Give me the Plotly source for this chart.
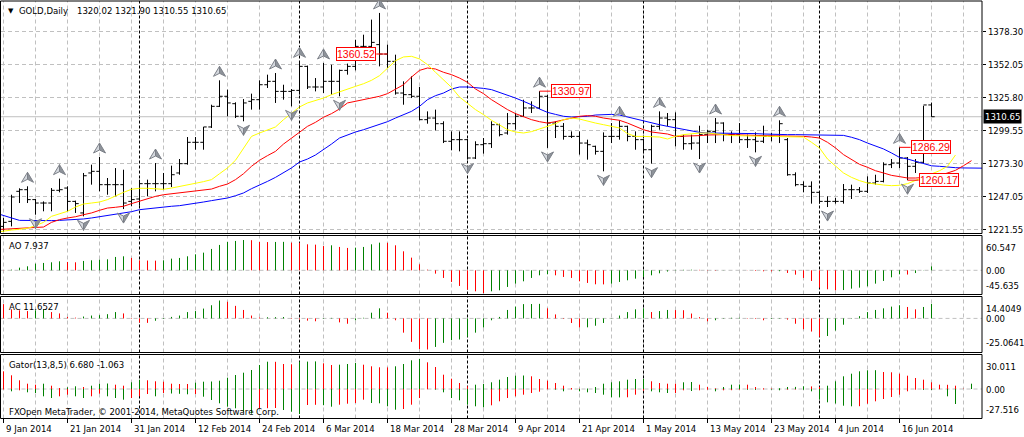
import plotly.graph_objects as go

# ------------------------------------------------------------------ data
DATE_LABELS = ["9 Jan 2014", "21 Jan 2014", "31 Jan 2014", "12 Feb 2014", "24 Feb 2014",
               "6 Mar 2014", "18 Mar 2014", "28 Mar 2014", "9 Apr 2014", "21 Apr 2014",
               "1 May 2014", "13 May 2014", "23 May 2014", "4 Jun 2014", "16 Jun 2014"]
DATE_LABEL_BARS = [0, 8, 16, 24, 32, 40, 48, 56, 64, 72, 80, 88, 96, 104, 112]
MONTH_START_BARS = [17, 37, 58, 80, 102]

OPEN = [1223.4, 1227.4, 1251.3, 1252.6, 1244.7, 1242.0, 1242.0, 1252.1, 1253.9, 1243.3,
        1234.1, 1265.9, 1267.2, 1256.6, 1256.6, 1256.6, 1243.3, 1245.2, 1257.4, 1257.4,
        1257.4, 1257.4, 1265.9, 1273.3, 1290.3, 1290.3, 1302.5, 1318.9, 1326.9, 1321.0,
        1311.0, 1322.9, 1324.2, 1336.1, 1338.8, 1330.8, 1330.8, 1331.6, 1350.7, 1334.3,
        1334.3, 1338.8, 1338.8, 1347.5, 1350.7, 1366.6, 1366.6, 1368.0, 1360.5, 1354.7,
        1329.5, 1328.2, 1326.9, 1308.3, 1309.6, 1305.1, 1291.1, 1292.4, 1292.4, 1277.8,
        1288.4, 1289.2, 1304.3, 1297.7, 1305.1, 1311.0, 1317.6, 1317.6, 1326.9, 1305.6,
        1303.0, 1295.0, 1295.0, 1289.7, 1287.1, 1283.1, 1295.0, 1295.0, 1303.0, 1295.0,
        1292.4, 1284.4, 1303.0, 1309.6, 1308.3, 1295.0, 1289.2, 1289.7, 1296.4, 1299.0,
        1305.6, 1296.4, 1296.4, 1292.4, 1292.4, 1291.1, 1295.0, 1295.0, 1292.4, 1264.5,
        1256.6, 1255.3, 1250.5, 1243.3, 1243.3, 1243.3, 1252.6, 1252.6, 1251.3, 1257.9,
        1259.2, 1272.5, 1273.8, 1277.8, 1271.2, 1274.4, 1320.02]
HIGH = [1230.1, 1248.6, 1253.7, 1255.3, 1245.2, 1243.3, 1253.9, 1261.4, 1255.3, 1243.9,
        1265.9, 1272.5, 1278.6, 1261.9, 1269.8, 1268.5, 1253.9, 1260.6, 1260.6, 1273.8,
        1265.9, 1271.7, 1277.0, 1294.5, 1294.5, 1302.5, 1320.2, 1339.6, 1332.2, 1322.1,
        1324.7, 1329.0, 1339.6, 1344.1, 1345.4, 1336.1, 1332.7, 1354.7, 1351.3, 1341.4,
        1353.4, 1352.0, 1348.1, 1352.9, 1371.9, 1375.9, 1387.9, 1393.2, 1368.0, 1360.0,
        1338.8, 1342.8, 1334.3, 1314.9, 1316.3, 1307.0, 1299.0, 1299.0, 1292.9, 1291.1,
        1293.7, 1307.0, 1305.1, 1313.6, 1313.6, 1324.2, 1322.9, 1330.97, 1328.2, 1307.0,
        1305.6, 1299.0, 1299.0, 1292.4, 1287.6, 1298.2, 1305.6, 1307.8, 1303.5, 1299.0,
        1292.9, 1304.3, 1314.9, 1313.6, 1314.1, 1296.4, 1296.4, 1303.5, 1300.3, 1309.6,
        1306.2, 1299.0, 1305.6, 1296.4, 1298.2, 1303.5, 1297.7, 1307.8, 1293.7, 1266.4,
        1259.2, 1259.2, 1251.0, 1247.3, 1246.0, 1257.1, 1256.6, 1254.7, 1263.2, 1264.5,
        1274.4, 1277.0, 1286.29, 1278.6, 1277.0, 1319.4, 1321.90]
LOW = [1219.0, 1223.4, 1242.0, 1242.0, 1232.7, 1235.4, 1235.4, 1250.5, 1235.4, 1234.1,
       1231.4, 1256.6, 1251.3, 1248.6, 1247.3, 1237.2, 1239.4, 1239.9, 1247.3, 1251.3,
       1252.6, 1254.7, 1264.5, 1272.5, 1284.4, 1284.4, 1301.7, 1318.4, 1311.0, 1309.6,
       1307.0, 1316.3, 1316.3, 1333.5, 1321.6, 1324.2, 1318.9, 1328.2, 1332.7, 1330.8,
       1329.5, 1328.2, 1326.9, 1344.1, 1347.5, 1364.0, 1365.3, 1350.7, 1349.4, 1328.2,
       1320.2, 1325.5, 1307.8, 1305.1, 1299.8, 1289.7, 1283.9, 1283.1, 1276.5, 1277.0,
       1281.3, 1285.8, 1295.0, 1296.4, 1300.3, 1310.4, 1313.6, 1316.8, 1285.8, 1293.7,
       1292.4, 1293.7, 1280.5, 1276.5, 1280.5, 1267.2, 1289.7, 1292.4, 1291.1, 1284.4,
       1283.1, 1273.3, 1300.3, 1303.0, 1287.1, 1284.4, 1284.4, 1277.0, 1289.7, 1289.7,
       1291.1, 1289.7, 1289.7, 1285.8, 1282.3, 1289.7, 1291.1, 1289.7, 1263.7, 1255.3,
       1250.5, 1241.5, 1241.5, 1238.8, 1241.5, 1241.5, 1245.2, 1250.0, 1250.0, 1256.6,
       1258.4, 1269.8, 1269.8, 1260.17, 1265.9, 1273.8, 1310.55]
CLOSE = [1226.6, 1246.8, 1252.6, 1244.7, 1242.0, 1242.0, 1252.1, 1252.6, 1243.3, 1241.5,
         1263.7, 1267.2, 1256.6, 1256.6, 1256.6, 1242.0, 1244.7, 1257.4, 1257.4, 1257.4,
         1257.4, 1264.5, 1273.3, 1290.3, 1290.3, 1302.5, 1318.9, 1326.9, 1321.6, 1311.0,
         1321.6, 1324.2, 1336.1, 1338.8, 1330.8, 1330.8, 1331.6, 1350.7, 1334.3, 1334.3,
         1338.8, 1338.8, 1347.5, 1350.7, 1366.6, 1366.6, 1369.8, 1360.5, 1354.7, 1329.5,
         1328.2, 1326.9, 1308.3, 1309.6, 1305.1, 1291.1, 1292.4, 1292.4, 1277.8, 1288.4,
         1289.2, 1304.3, 1296.4, 1305.1, 1311.0, 1317.6, 1317.6, 1326.9, 1305.6, 1303.0,
         1295.0, 1295.0, 1289.7, 1288.4, 1283.1, 1295.0, 1295.0, 1303.0, 1295.0, 1292.4,
         1284.4, 1303.0, 1309.6, 1308.3, 1295.0, 1289.2, 1289.7, 1296.4, 1299.0, 1305.6,
         1296.4, 1296.4, 1292.4, 1292.4, 1291.1, 1295.0, 1295.0, 1305.1, 1264.5, 1256.6,
         1255.3, 1250.5, 1243.3, 1243.3, 1243.3, 1252.6, 1252.6, 1251.3, 1257.9, 1259.2,
         1272.5, 1273.8, 1277.8, 1271.2, 1274.4, 1320.0, 1310.65]

LINE_START_BAR = -1
JAW = [1234.1, 1231.9, 1230.1, 1228.2, 1228.0, 1228.0, 1228.0, 1228.0, 1228.2, 1228.5,
       1228.8, 1229.3, 1230.1, 1231.1, 1231.9, 1232.7, 1233.8, 1235.1, 1236.7, 1237.5,
       1238.0, 1238.6, 1239.4, 1239.9, 1240.7, 1241.7, 1242.8, 1243.9, 1244.9, 1246.0,
       1247.8, 1250.0, 1253.4, 1256.1, 1259.2, 1262.4, 1265.9, 1269.9, 1274.6, 1277.0,
       1280.2, 1284.4, 1288.9, 1293.7, 1296.4, 1298.5, 1300.3, 1302.5, 1304.6, 1306.7,
       1309.6, 1312.3, 1314.9, 1318.9, 1324.2, 1327.4, 1329.5, 1332.7, 1334.3, 1334.3,
       1334.0, 1333.2, 1332.2, 1330.0, 1328.2, 1325.5, 1322.9, 1320.2, 1316.8, 1314.1,
       1312.5, 1311.0, 1310.4, 1310.4, 1311.0, 1312.0, 1312.3, 1312.5, 1312.0, 1310.4,
       1308.8, 1307.0, 1305.6, 1304.3, 1303.0, 1301.7, 1300.3, 1299.0, 1298.2, 1297.7,
       1297.7, 1297.7, 1297.7, 1297.7, 1297.4, 1297.2, 1296.9, 1296.6, 1296.6, 1296.4,
       1296.4, 1296.4, 1296.4, 1296.4, 1296.4, 1296.4, 1295.8, 1294.3, 1292.4, 1289.7,
       1287.6, 1285.0, 1281.8, 1278.3, 1277.0, 1275.2, 1273.0, 1271.6, 1271.2, 1270.4,
       1270.1, 1269.9, 1269.9, 1269.9, 1269.6, 1269.6]
TEETH = [1220.8, 1221.1, 1221.3, 1221.6, 1221.9, 1222.1, 1222.9, 1226.6, 1228.8, 1230.1,
         1231.1, 1232.7, 1234.1, 1236.2, 1238.0, 1238.6, 1239.4, 1241.5, 1243.6, 1245.5,
         1247.3, 1248.6, 1249.4, 1250.0, 1250.8, 1251.3, 1252.1, 1253.1, 1255.3, 1257.1,
         1260.6, 1265.3, 1271.2, 1276.0, 1279.7, 1283.1, 1288.9, 1293.7, 1298.2, 1303.0,
         1306.2, 1310.2, 1313.1, 1316.8, 1321.6, 1322.9, 1324.2, 1325.5, 1326.9, 1329.0,
         1332.7, 1336.1, 1342.2, 1347.5, 1349.4, 1348.6, 1346.0, 1344.1, 1341.4, 1338.0,
         1332.7, 1329.0, 1324.2, 1320.2, 1316.3, 1313.1, 1310.4, 1308.3, 1306.7, 1305.6,
         1306.7, 1308.3, 1309.6, 1311.0, 1311.5, 1311.0, 1309.6, 1308.8, 1307.8, 1305.6,
         1303.0, 1300.3, 1298.5, 1297.7, 1296.9, 1295.0, 1295.0, 1295.0, 1295.6, 1296.1,
         1296.4, 1296.4, 1296.4, 1296.4, 1296.1, 1295.8, 1295.6, 1295.6, 1295.3, 1295.0,
         1295.0, 1295.0, 1294.5, 1293.7, 1290.3, 1285.8, 1280.5, 1276.5, 1272.8, 1270.4,
         1267.7, 1265.9, 1264.0, 1263.0, 1261.9, 1261.9, 1262.2, 1262.7, 1263.8, 1265.9,
         1268.0, 1271.7, 1275.7]
LIPS = [1218.7, 1219.7, 1220.5, 1221.1, 1221.9, 1224.0, 1226.6, 1231.4, 1233.5, 1235.4,
        1238.8, 1241.2, 1242.0, 1242.8, 1244.7, 1247.8, 1250.5, 1252.9, 1253.7, 1253.7,
        1253.1, 1252.9, 1253.9, 1255.0, 1256.3, 1257.7, 1259.0, 1260.6, 1265.3, 1269.9,
        1276.0, 1285.8, 1295.0, 1297.7, 1299.8, 1302.5, 1308.3, 1313.1, 1318.4, 1321.6,
        1323.4, 1325.5, 1328.2, 1330.6, 1333.0, 1334.8, 1336.9, 1339.6, 1343.3, 1349.4,
        1355.2, 1358.2, 1358.7, 1356.6, 1352.1, 1346.0, 1340.1, 1334.0, 1326.3, 1321.0,
        1316.3, 1312.3, 1307.8, 1304.1, 1300.3, 1298.5, 1297.7, 1298.8, 1300.9, 1303.0,
        1305.1, 1308.3, 1309.6, 1308.8, 1307.0, 1305.6, 1304.3, 1303.0, 1301.7, 1297.2,
        1295.0, 1295.0, 1295.0, 1294.5, 1292.9, 1295.0, 1296.4, 1297.2, 1297.7, 1297.7,
        1297.2, 1296.4, 1295.6, 1295.6, 1295.3, 1295.0, 1295.0, 1295.0, 1294.8, 1294.8,
        1294.5, 1294.5, 1290.3, 1285.8, 1277.0, 1271.2, 1265.9, 1262.4, 1259.8, 1257.9,
        1256.9, 1256.3, 1255.8, 1256.1, 1257.4, 1260.0, 1262.7, 1265.3, 1267.7, 1271.2,
        1280.2]

FRACTAL_UP = [3, 7, 12, 19, 27, 34, 37, 40, 47, 67, 77, 82, 89, 97, 112]
FRACTAL_DOWN = [4, 10, 15, 30, 36, 42, 58, 68, 75, 81, 87, 94, 103, 113]

LEVEL_BARS = [48, 67, 112, 113]
LEVEL_PRICES = [1360.52, 1330.97, 1286.29, 1260.17]
LEVEL_SIDES = ["left", "right", "right", "right"]

AO = [0.4, 1.3, 5.3, 8.0, 13.3, 14.7, 16.0, 18.0, 16.7, 16.0,
      18.7, 20.0, 21.3, 22.0, 26.7, 28.0, 24.7, 20.0, 19.5, 19.3,
      20.0, 23.3, 24.7, 28.0, 32.0, 35.3, 42.7, 50.7, 56.7, 58.7,
      60.547, 60.2, 56.7, 56.5, 56.7, 56.9, 55.3, 55.0, 52.0, 51.3,
      48.5, 50.0, 46.7, 44.7, 45.3, 46.7, 52.0, 55.3, 55.0, 50.0,
      38.0, 25.3, 12.0, 1.3, -6.7, -15.3, -23.3, -31.3, -38.7, -42.0,
      -45.635, -42.0, -40.0, -33.3, -26.7, -22.0, -15.3, -10.0, -8.0, -10.0,
      -13.3, -15.3, -22.0, -25.3, -28.0, -28.2, -26.7, -23.3, -20.0, -16.7,
      -13.3, -10.0, -6.0, -2.5, 0.8, 1.0, 1.2, 0.9, -0.6, -0.8,
      -0.3, 0.2, 0.1, -0.3, -1.3, -2.0, -2.2, -1.8, -5.3, -8.7,
      -15.3, -21.3, -34.7, -38.0, -40.0, -39.5, -36.7, -34.7, -32.0, -26.7,
      -21.3, -14.0, -8.0, -8.5, -5.5, -0.4, 7.937]
AC = [11.5, 7.3, 6.5, 5.9, 6.5, 7.3, 5.1, 4.0, 1.2, 0.6,
      1.5, 2.3, 2.6, 3.4, 5.1, 4.0, -0.4, -3.3, -3.6, -1.9,
      -0.5, 1.2, 2.3, 5.1, 5.9, 7.9, 10.6, 14.4049, 13.4, 10.1,
      6.8, 2.3, 0.7, 0.9, 1.0, 1.1, -0.4, -0.8, -1.8, -2.3,
      -0.4, 0.4, -3.2, -4.3, -1.5, 0.5, 4.6, 8.1, 4.6, -1.5,
      -11.5, -18.9, -24.7, -25.0641, -23.0, -19.7, -17.5, -17.0, -14.8, -11.5,
      -7.3, -1.5, 1.2, 6.8, 9.5, 11.5, 11.6, 11.7, 8.1, 3.2,
      -0.4, -3.7, -7.3, -7.2, -5.9, -3.7, 0.2, 2.3, 5.1, 7.3,
      8.1, 5.1, 5.9, 6.8, 6.7, 6.6, 3.9, 1.0, -2.3, -1.5,
      0.3, 0.5, 0.6, -0.3, -0.5, -1.5, -0.5, 0.3, -1.0, -4.3,
      -8.7, -10.6, -14.8, -14.2, -9.8, -5.1, 0.3, 1.8, 5.1, 6.8,
      8.1, 9.5, 10.6, 9.2, 7.3, 9.2, 11.6527]
GATOR_UP = [17.7, 13.7, 8.7, 5.3, 4.3, 5.3, 3.3, 1.0, 1.7, 2.7,
            2.0, 3.3, 5.3, 5.5, 4.3, 3.3, 6.7, 9.3, 8.7, 7.7,
            7.3, 5.3, 5.0, 5.0, 6.3, 7.3, 7.5, 8.3, 11.3, 14.0,
            16.3, 19.0, 24.0, 27.3, 27.2, 25.0, 24.7, 27.3, 27.4, 27.6,
            25.7, 24.0, 24.3, 25.0, 26.0, 24.3, 22.7, 21.7, 21.6, 22.7,
            25.0, 28.7, 30.011, 26.7, 22.0, 14.3, 10.3, 6.0, 2.7, 4.3,
            5.0, 6.7, 9.3, 12.0, 13.3, 13.5, 12.7, 10.0, 8.3, 6.0,
            3.3, 1.0, 0.3, 0.5, 2.0, 5.3, 6.7, 7.7, 9.3, 10.0,
            10.1, 7.7, 6.0, 5.3, 5.3, 6.7, 7.0, 4.3, 2.0, 0.7,
            2.0, 4.3, 4.5, 4.3, 2.0, 0.7, 0.5, 0.8, 2.0, 2.1,
            2.7, 2.6, 2.0, 3.3, 7.7, 12.7, 15.3, 17.7, 18.7, 18.8,
            17.0, 16.7, 15.3, 13.3, 11.0, 9.3, 6.680, 4.3, 4.2, 3.3,
            0.3, 5.3]
GATOR_DOWN = [-0.5, -2.3, -1.3, -3.3, -4.0, -7.3, -9.0, -7.3, -5.7, -7.3,
              -9.0, -7.3, -4.7, -7.3, -9.0, -10.7, -9.0, -7.3, -5.0, -7.3,
              -4.0, -4.5, -4.8, -5.3, -5.0, -7.7, -11.0, -14.3, -17.7, -19.3,
              -22.7, -24.6, -19.3, -19.2, -19.0, -21.0, -22.7, -25.0, -16.0, -15.8,
              -16.2, -17.7, -15.7, -14.7, -14.0, -10.7, -14.0, -14.3, -17.3, -20.7,
              -20.0, -15.7, -9.0, -0.3, -0.7, -3.3, -9.0, -11.3, -15.7, -17.3,
              -18.3, -16.3, -12.3, -9.0, -7.3, -5.7, -4.0, -2.7, -0.3, -0.7,
              -2.3, -0.5, -2.3, -3.3, -4.0, -5.7, -8.3, -8.4, -8.3, -5.7,
              -1.7, -2.3, -3.3, -4.0, -4.0, -1.3, -2.0, -1.3, -0.7, -2.3,
              -1.3, -1.2, -0.7, -0.8, -0.9, -0.5, -0.6, -1.3, -0.7, -0.6,
              -0.8, -2.3, -10.7, -13.3, -14.5, -16.7, -17.3, -17.2, -14.7, -12.3,
              -10.0, -8.0, -5.7, -2.3, -0.7, -0.9, -1.063, -0.3, -7.3, -15.0,
              None, None]

PRICE_TICKS = [1378.30, 1352.05, 1325.80, 1299.55, 1273.30, 1247.05, 1220.80]
PRICE_TICK_TEXT = ["1378.30", "1352.05", "1325.80", "1299.55", "1273.30", "1247.05", "1221.55"]
AO_SCALE = [60.547, 0.0, -45.635]
AC_SCALE = [14.4049, 0.0, -25.0641]
GATOR_SCALE = [30.011, 0.0, -27.516]
AO_SCALE_TEXT = ["60.547", "0.00", "-45.635"]
AC_SCALE_TEXT = ["14.4049", "0.00", "-25.0641"]
GATOR_SCALE_TEXT = ["30.011", "0.00", "-27.516"]

# ------------------------------------------------------------------ layout constants
W, H = 1024, 437
FONT = "DejaVu Sans Condensed, Liberation Sans, Arial, sans-serif"
FS = 9.5
BOXFONT = "Liberation Sans, Arial, sans-serif"
GREEN, RED = "#008000", "#ff0000"
GRID = "#c0c0c0"
PL, PR = 0.5, 982.0
PANELS = {"y": (1.0, 233.5), "y2": (235.5, 294.5), "y3": (296.5, 352.5), "y4": (354.5, 418.5)}
RANGES = {"y": (1217.75, 1402.70), "y2": (-48.4, 69.6), "y3": (-27.47, 17.64), "y4": (-29.5, 34.5)}
XR = (-0.375, 122.3125)


def fy(p):
    return 1 - p / H


def fx(p):
    return p / W


n = len(CLOSE)
bars = list(range(n))
fig = go.Figure()

# price bars
fig.add_trace(go.Ohlc(x=bars, open=OPEN, high=HIGH, low=LOW, close=CLOSE,
                      increasing=dict(line=dict(color="black", width=1)),
                      decreasing=dict(line=dict(color="black", width=1)),
                      tickwidth=0.4, hoverinfo="skip", xaxis="x", yaxis="y"))

# alligator
for vals, col in ((JAW, "#0000ff"), (TEETH, "#ff0000"), (LIPS, "#ffff00")):
    fig.add_trace(go.Scatter(x=[LINE_START_BAR + k for k in range(len(vals))], y=vals,
                             mode="lines", line=dict(color=col, width=1),
                             hoverinfo="skip", xaxis="x", yaxis="y"))


def histogram(vals, yaxis, grow):
    gx, gy, rx, ry = [], [], [], []
    prev = None
    for i, v in enumerate(vals):
        if v is None:
            continue
        green = prev is not None and grow(v, prev)
        tx, ty = (gx, gy) if green else (rx, ry)
        tx += [i, i, None]
        ty += [0, v, None]
        prev = v
    for xs, ys, col in ((gx, gy, GREEN), (rx, ry, RED)):
        fig.add_trace(go.Scatter(x=xs, y=ys, mode="lines", line=dict(color=col, width=1),
                                 hoverinfo="skip", xaxis="x", yaxis=yaxis))


histogram(AO, "y2", lambda v, p: v > p)
histogram(AC, "y3", lambda v, p: v > p)
histogram(GATOR_UP, "y4", lambda v, p: v > p)
histogram(GATOR_DOWN, "y4", lambda v, p: abs(v) > abs(p))

shapes = []
annotations = []

# grid and separators
for ax, (top, bot) in PANELS.items():
    for b in range(0, int(XR[1]) + 1, 4):
        shapes.append(dict(type="line", xref="x", yref="paper", x0=b, x1=b, y0=fy(bot), y1=fy(top),
                           line=dict(color=GRID, width=1, dash="4px,3px"), layer="below"))
    for b in MONTH_START_BARS:
        shapes.append(dict(type="line", xref="x", yref="paper", x0=b, x1=b, y0=fy(bot), y1=fy(top),
                           line=dict(color="black", width=1, dash="3px,2px"), layer="below"))
    if ax != "y":
        shapes.append(dict(type="line", xref="paper", yref=ax, x0=fx(PL), x1=fx(PR), y0=0, y1=0,
                           line=dict(color=GRID, width=1, dash="4px,3px"), layer="below"))
    shapes.append(dict(type="rect", xref="paper", yref="paper", x0=fx(PL), x1=fx(PR),
                       y0=fy(bot), y1=fy(top), line=dict(color="black", width=1), layer="above"))

# current price line
shapes.append(dict(type="line", xref="paper", yref="y", x0=fx(PL), x1=fx(PR),
                   y0=CLOSE[-1], y1=CLOSE[-1], line=dict(color=GRID, width=1), layer="below"))

# fractal arrows
ppy = (RANGES["y"][1] - RANGES["y"][0]) / (PANELS["y"][1] - PANELS["y"][0])
ppx = (XR[1] - XR[0]) / (PR - PL)


def arrow(b, cy, d):
    hw, hh, nd = 6 * ppx, 5 * ppy, 2 * ppy
    tip = (b, cy + d * hh)
    lft = (b - hw, cy - d * hh)
    rgt = (b + hw, cy - d * hh)
    notch = (b, cy - d * nd)

    def path(pts):
        return "M " + " L ".join(f"{x},{y}" for x, y in pts) + " Z"
    shapes.append(dict(type="path", xref="x", yref="y", path=path([tip, lft, notch]),
                       fillcolor="#d4d8de", line=dict(color="#7c8088", width=1), layer="above"))
    shapes.append(dict(type="path", xref="x", yref="y", path=path([tip, notch, rgt]),
                       fillcolor="#8e939a", line=dict(color="#7c8088", width=1), layer="above"))


for b in FRACTAL_UP:
    arrow(b, HIGH[b] + 9 * ppy, 1)
for b in FRACTAL_DOWN:
    arrow(b, LOW[b] - 9 * ppy, -1)

# level labels
for b, p, side in zip(LEVEL_BARS, LEVEL_PRICES, LEVEL_SIDES):
    end = b + 1.4 if side == "right" else b - 1.4
    shapes.append(dict(type="line", xref="x", yref="y", x0=b, x1=end, y0=p, y1=p,
                       line=dict(color=RED, width=1), layer="above"))
    annotations.append(dict(x=end, y=p, xref="x", yref="y", text=f"{p:.2f}", showarrow=False,
                            xanchor="left" if side == "right" else "right", yanchor="middle",
                            font=dict(family=BOXFONT, size=10.5, color=RED),
                            bgcolor="white", bordercolor=RED, borderwidth=1, borderpad=0))

# current price box
annotations.append(dict(x=fx(PR + 1), y=CLOSE[-1], xref="paper", yref="y", text=f"{CLOSE[-1]:.2f}",
                        showarrow=False, xanchor="left", yanchor="middle",
                        font=dict(family=FONT, size=FS, color="white"), bgcolor="black", borderpad=1))

# indicator scale labels
for ax, vals, texts in (("y2", AO_SCALE, AO_SCALE_TEXT), ("y3", AC_SCALE, AC_SCALE_TEXT),
                        ("y4", GATOR_SCALE, GATOR_SCALE_TEXT)):
    for v, t, anc in zip(vals, texts, ("top", "middle", "bottom")):
        annotations.append(dict(x=fx(PR + 2), y=v, xref="paper", yref=ax, text=t, showarrow=False,
                                xanchor="left", yanchor=anc, font=dict(family=FONT, size=FS, color="black")))

# date labels and ticks
for b, t in zip(DATE_LABEL_BARS, DATE_LABELS):
    shapes.append(dict(type="line", xref="x", yref="paper", x0=b, x1=b,
                       y0=fy(PANELS["y4"][1] + 4.5), y1=fy(PANELS["y4"][1]),
                       line=dict(color="black", width=1)))
    annotations.append(dict(x=b, y=fy(428), xref="x", yref="paper", text=t, showarrow=False,
                            xanchor="left", yanchor="middle", xshift=0,
                            font=dict(family=FONT, size=FS, color="black")))

# titles
annotations.append(dict(x=fx(6), y=fy(11), xref="paper", yref="paper", text="▼", showarrow=False,
                        xanchor="left", yanchor="middle", font=dict(family="DejaVu Sans", size=7, color="black")))
annotations.append(dict(x=fx(17), y=fy(10.5), xref="paper", yref="paper", text="GOLD,Daily",
                        showarrow=False, xanchor="left", yanchor="middle",
                        font=dict(family=FONT, size=FS, color="black")))
annotations.append(dict(x=fx(75), y=fy(10.5), xref="paper", yref="paper",
                        text=f"{OPEN[-1]:.2f} {HIGH[-1]:.2f} {LOW[-1]:.2f} {CLOSE[-1]:.2f}",
                        showarrow=False, xanchor="left", yanchor="middle",
                        font=dict(family=FONT, size=FS, color="black")))
for txt, yp in ((f"AO {AO[-1]:.3f}", 245), (f"AC {AC[-1]:.4f}", 306),
                (f"Gator(13,8,5) {GATOR_UP[n - 1]:.3f} {GATOR_DOWN[n - 1]:.3f}", 364.5),
                ("FXOpen MetaTrader, © 2001-2014, MetaQuotes Software Corp.", 411.5)):
    annotations.append(dict(x=fx(6.5), y=fy(yp), xref="paper", yref="paper", text=txt,
                            showarrow=False, xanchor="left", yanchor="middle",
                            font=dict(family=FONT, size=FS, color="black")))

hidden = dict(visible=False, fixedrange=True, anchor="x")
fig.update_layout(
    template="none", width=W, height=H, margin=dict(l=0, r=0, t=0, b=0),
    paper_bgcolor="white", plot_bgcolor="white", showlegend=False,
    font=dict(family=FONT, size=FS, color="black"),
    xaxis=dict(domain=[fx(PL), fx(PR)], range=list(XR), visible=False, fixedrange=True,
               rangeslider=dict(visible=False), anchor="y4"),
    yaxis=dict(domain=[fy(PANELS["y"][1]), fy(PANELS["y"][0])], range=list(RANGES["y"]),
               anchor="x", side="right", tickvals=PRICE_TICKS, ticktext=PRICE_TICK_TEXT,
               ticks="outside", ticklen=3, tickcolor="black", showgrid=True, gridcolor=GRID,
               griddash="4px,3px", gridwidth=1, zeroline=False, showline=False, automargin=False,
               fixedrange=True, tickfont=dict(family=FONT, size=FS, color="black")),
    yaxis2=dict(domain=[fy(PANELS["y2"][1]), fy(PANELS["y2"][0])], range=list(RANGES["y2"]), **hidden),
    yaxis3=dict(domain=[fy(PANELS["y3"][1]), fy(PANELS["y3"][0])], range=list(RANGES["y3"]), **hidden),
    yaxis4=dict(domain=[fy(PANELS["y4"][1]), fy(PANELS["y4"][0])], range=list(RANGES["y4"]), **hidden),
    shapes=shapes, annotations=annotations,
)

fig.write_html("out.html", config={"displayModeBar": False},
               post_script="document.body.style.margin='0';document.body.style.overflow='hidden';")
